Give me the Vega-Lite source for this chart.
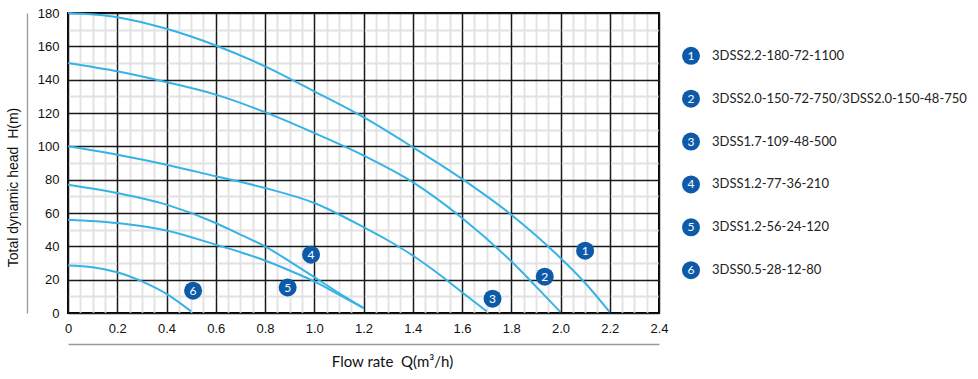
{
  "$schema": "https://vega.github.io/schema/vega-lite/v6.json",
  "background": "white",
  "padding": {"left": 5, "top": 6, "right": 5, "bottom": 5},
  "spacing": 12,
  "config": {"view": {"stroke": null}},
  "datasets": {
    "curves": [
      {"model": "1", "q": 0, "h": 180}, {"model": "1", "q": 0.2, "h": 177.5}, {"model": "1", "q": 0.4, "h": 170.5}, {"model": "1", "q": 0.6, "h": 160.5}, {"model": "1", "q": 0.8, "h": 148}, {"model": "1", "q": 1.0, "h": 133}, {"model": "1", "q": 1.2, "h": 117.5}, {"model": "1", "q": 1.4, "h": 99.5}, {"model": "1", "q": 1.6, "h": 80.5}, {"model": "1", "q": 1.8, "h": 59}, {"model": "1", "q": 2.0, "h": 33}, {"model": "1", "q": 2.1, "h": 18}, {"model": "1", "q": 2.2, "h": 0.5},
      {"model": "2", "q": 0, "h": 150}, {"model": "2", "q": 0.2, "h": 145}, {"model": "2", "q": 0.4, "h": 138.5}, {"model": "2", "q": 0.6, "h": 131}, {"model": "2", "q": 0.8, "h": 120.5}, {"model": "2", "q": 1.0, "h": 108}, {"model": "2", "q": 1.2, "h": 94.5}, {"model": "2", "q": 1.4, "h": 78.5}, {"model": "2", "q": 1.6, "h": 57}, {"model": "2", "q": 1.8, "h": 31}, {"model": "2", "q": 1.9, "h": 16}, {"model": "2", "q": 2.0, "h": 0.5},
      {"model": "3", "q": 0, "h": 100}, {"model": "3", "q": 0.2, "h": 95}, {"model": "3", "q": 0.4, "h": 89}, {"model": "3", "q": 0.6, "h": 82}, {"model": "3", "q": 0.8, "h": 75}, {"model": "3", "q": 1.0, "h": 66}, {"model": "3", "q": 1.2, "h": 51.5}, {"model": "3", "q": 1.3, "h": 43.5}, {"model": "3", "q": 1.4, "h": 34.5}, {"model": "3", "q": 1.5, "h": 24}, {"model": "3", "q": 1.6, "h": 12.5}, {"model": "3", "q": 1.7, "h": 1},
      {"model": "4", "q": 0, "h": 77}, {"model": "4", "q": 0.2, "h": 72}, {"model": "4", "q": 0.4, "h": 65}, {"model": "4", "q": 0.6, "h": 54}, {"model": "4", "q": 0.7, "h": 47}, {"model": "4", "q": 0.8, "h": 40}, {"model": "4", "q": 0.9, "h": 31}, {"model": "4", "q": 1.0, "h": 21.5}, {"model": "4", "q": 1.1, "h": 12}, {"model": "4", "q": 1.2, "h": 3},
      {"model": "5", "q": 0, "h": 56}, {"model": "5", "q": 0.2, "h": 54}, {"model": "5", "q": 0.4, "h": 49.5}, {"model": "5", "q": 0.6, "h": 41}, {"model": "5", "q": 0.7, "h": 36.5}, {"model": "5", "q": 0.8, "h": 31.5}, {"model": "5", "q": 0.9, "h": 25.5}, {"model": "5", "q": 1.0, "h": 19}, {"model": "5", "q": 1.1, "h": 11}, {"model": "5", "q": 1.2, "h": 3},
      {"model": "6", "q": 0, "h": 28.5}, {"model": "6", "q": 0.1, "h": 27.5}, {"model": "6", "q": 0.2, "h": 24.5}, {"model": "6", "q": 0.3, "h": 19}, {"model": "6", "q": 0.4, "h": 11.5}, {"model": "6", "q": 0.5, "h": 1}
    ],
    "markers": [
      {"id": "1", "q": 2.10, "h": 37.4},
      {"id": "2", "q": 1.936, "h": 21.8},
      {"id": "3", "q": 1.724, "h": 8.6},
      {"id": "4", "q": 0.987, "h": 35},
      {"id": "5", "q": 0.892, "h": 15.3},
      {"id": "6", "q": 0.508, "h": 13.4}
    ],
    "legend": [
      {"id": "1", "label": "3DSS2.2-180-72-1100"},
      {"id": "2", "label": "3DSS2.0-150-72-750/3DSS2.0-150-48-750"},
      {"id": "3", "label": "3DSS1.7-109-48-500"},
      {"id": "4", "label": "3DSS1.2-77-36-210"},
      {"id": "5", "label": "3DSS1.2-56-24-120"},
      {"id": "6", "label": "3DSS0.5-28-12-80"}
    ]
  },
  "hconcat": [
    {
      "width": 591,
      "height": 300,
      "view": {"stroke": "#000000", "strokeWidth": 2},
      "resolve": {"axis": {"x": "independent", "y": "independent"}},
      "layer": [
        {
          "data": {"name": "curves"},
          "mark": {"type": "line", "interpolate": "monotone", "color": "#36b3e6", "strokeWidth": 2},
          "encoding": {
            "x": {
              "field": "q", "type": "quantitative",
              "scale": {"domain": [0, 2.4], "nice": false, "zero": false},
              "axis": {"orient": "bottom", "values": [0.05, 0.1, 0.15, 0.25, 0.3, 0.35, 0.45, 0.5, 0.55, 0.65, 0.7, 0.75, 0.85, 0.9, 0.95, 1.05, 1.1, 1.15, 1.25, 1.3, 1.35, 1.45, 1.5, 1.55, 1.65, 1.7, 1.75, 1.85, 1.9, 1.95, 2.05, 2.1, 2.15, 2.25, 2.3, 2.35], "grid": true, "gridColor": "#e2e2e2", "gridWidth": 1.8, "labels": false, "ticks": false, "domain": false, "title": null}
            },
            "y": {
              "field": "h", "type": "quantitative",
              "scale": {"domain": [0, 180], "nice": false},
              "axis": {"orient": "left", "values": [10, 30, 50, 70, 90, 110, 130, 150, 170], "grid": true, "gridColor": "#e2e2e2", "gridWidth": 1.8, "gridDash": [47.45, 1.8], "gridDashOffset": 48.35, "labels": false, "ticks": false, "domain": false, "title": null}
            },
            "detail": {"field": "model", "type": "nominal"}
          }
        },
        {
          "data": {"name": "markers"},
          "mark": {"type": "circle", "size": 324, "color": "#0d5ba8", "opacity": 1},
          "encoding": {
            "x": {
              "field": "q", "type": "quantitative",
              "axis": {"orient": "bottom", "values": [0, 0.2, 0.4, 0.6, 0.8, 1.0, 1.2, 1.4, 1.6, 1.8, 2.0, 2.2, 2.4], "grid": true, "gridColor": "#1a1a1a", "gridWidth": 1.5, "ticks": false, "domain": false, "labelPadding": 9, "labelFlush": false, "labelExpr": "datum.value == 0 ? '0' : format(datum.value, '.1f')", "labelFont": "Liberation Sans", "labelFontSize": 13, "labelColor": "#111111", "title": null}
            },
            "y": {
              "field": "h", "type": "quantitative",
              "axis": {"orient": "left", "values": [0, 20, 40, 60, 80, 100, 120, 140, 160, 180], "grid": true, "gridColor": "#1a1a1a", "gridWidth": 1.5, "ticks": false, "domain": false, "labelPadding": 9, "labelFont": "Liberation Sans", "labelFontSize": 13, "labelColor": "#111111", "title": null}
            }
          }
        },
        {
          "data": {"name": "markers"},
          "mark": {"type": "text", "color": "white", "font": "Lato", "fontSize": 12, "baseline": "middle", "align": "center"},
          "encoding": {
            "x": {
              "field": "q", "type": "quantitative",
              "axis": {"orient": "bottom", "offset": 31, "domainColor": "#999999", "domainWidth": 1.3, "ticks": false, "labels": false, "grid": false, "title": "Flow rate\u00a0 Q(m³/h)", "titleFont": "Lato", "titleFontSize": 15, "titleFontWeight": "normal", "titleColor": "#111111", "titlePadding": 10.5, "titleX": 324}
            },
            "y": {
              "field": "h", "type": "quantitative",
              "axis": {"orient": "left", "offset": 41, "domainColor": "#999999", "domainWidth": 1.3, "ticks": false, "labels": false, "grid": false, "title": "Total dynamic head\u00a0 H(m)", "titleFont": "Liberation Sans", "titleFontSize": 14, "titleFontWeight": "normal", "titleColor": "#111111", "titlePadding": 7, "titleY": 174}
            },
            "text": {"field": "id"}
          }
        }
      ]
    },
    {
      "width": 20,
      "height": 300,
      "data": {"name": "legend"},
      "encoding": {
        "y": {"field": "id", "type": "ordinal", "scale": {"type": "point", "padding": 1}, "axis": null},
        "x": {"datum": 0, "type": "quantitative", "scale": {"domain": [0, 1]}, "axis": null}
      },
      "layer": [
        {"mark": {"type": "circle", "size": 324, "color": "#0d5ba8", "opacity": 1}},
        {"mark": {"type": "text", "color": "white", "font": "Lato", "fontSize": 12, "baseline": "middle", "align": "center"}, "encoding": {"text": {"field": "id"}}},
        {"mark": {"type": "text", "align": "left", "baseline": "middle", "dx": 21, "font": "Lato", "fontSize": 13, "color": "#222222"}, "encoding": {"text": {"field": "label"}}}
      ]
    }
  ]
}
